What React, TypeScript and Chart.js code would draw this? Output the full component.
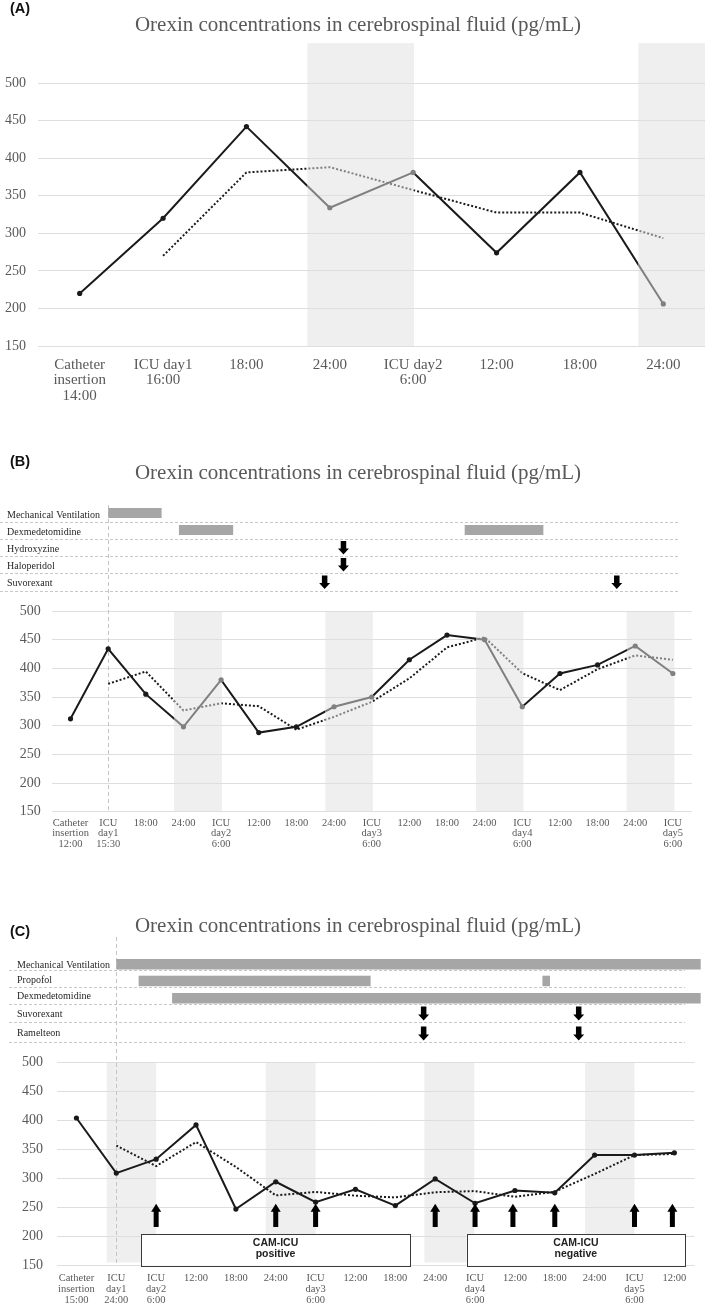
import React, { useEffect, useRef } from "react";
import { Chart, registerables } from "chart.js";
Chart.register(...registerables);

const SERIF = '"Liberation Serif", "Times New Roman", serif';
const SANS = '"Liberation Sans", Arial, sans-serif';
const TXT = "#595959";
const BLACK = "#1a1a1a";
const GRAY = "#808080";
const BAND = "#efefef";
const TITLE = "Orexin concentrations in cerebrospinal fluid (pg/mL)";

// ---------- Panel A data ----------
const catsA = [["Catheter", "insertion", "14:00"], ["ICU day1", "16:00"], ["18:00"], ["24:00"], ["ICU day2", "6:00"], ["12:00"], ["18:00"], ["24:00"]];
const orexinA = [220, 320, 442, 334, 381, 274, 381, 206];
const trendA = [null, 270, 381, 388, 357.5, 327.5, 327.5, 293.5];
const nightA = [[2.73, 4.01], [6.7, 7.5]];

// ---------- Panel B data ----------
const catsB = [["Catheter", "insertion", "12:00"], ["ICU", "day1", "15:30"], ["18:00"], ["24:00"], ["ICU", "day2", "6:00"], ["12:00"], ["18:00"], ["24:00"], ["ICU", "day3", "6:00"], ["12:00"], ["18:00"], ["24:00"], ["ICU", "day4", "6:00"], ["12:00"], ["18:00"], ["24:00"], ["ICU", "day5", "6:00"]];
const orexinB = [312, 434, 355, 298, 380, 288, 298, 333, 350, 415, 458, 450, 333, 391, 406, 439, 391];
const trendB = [null, 373, 394.5, 326.5, 339, 334, 293, 315.5, 341.5, 382.5, 436.5, 454, 391.5, 362, 398.5, 422.5, 415];
const nightB = [[2.75, 4.02], [6.77, 8.03], [10.77, 12.03], [14.77, 16.04]];
const rowsB = ["Mechanical Ventilation", "Dexmedetomidine", "Hydroxyzine", "Haloperidol", "Suvorexant"];
const barsB = [[0, 1.0, 2.42], [1, 2.88, 4.32], [1, 10.47, 12.56]];
const dosesB = [[2, 7.25], [3, 7.25], [4, 6.75], [4, 14.51]];

// ---------- Panel C data ----------
const catsC = [["Catheter", "insertion", "15:00"], ["ICU", "day1", "24:00"], ["ICU", "day2", "6:00"], ["12:00"], ["18:00"], ["24:00"], ["ICU", "day3", "6:00"], ["12:00"], ["18:00"], ["24:00"], ["ICU", "day4", "6:00"], ["12:00"], ["18:00"], ["24:00"], ["ICU", "day5", "6:00"], ["12:00"]];
const orexinC = [404, 309, 333, 392, 247, 294, 259, 281, 253, 299, 257, 279, 275, 340, 340, 344];
const trendC = [null, 356.5, 321, 362.5, 319.5, 270.5, 276.5, 270, 267, 276, 278, 268, 277, 307.5, 340, 342];
const nightC = [[0.76, 2.0], [4.75, 6.0], [8.73, 9.98], [12.76, 14.0]];
const rowsC = ["Mechanical Ventilation", "Propofol", "Dexmedetomidine", "Suvorexant", "Ramelteon"];
const barsC = [[0, 1.0, 15.66], [1, 1.56, 7.38], [1, 11.69, 11.88], [2, 2.4, 15.66]];
const dosesC = [[3, 8.71], [4, 8.71], [3, 12.6], [4, 12.6]];
const camArrowsC = [2, 5, 6, 9, 10, 10.95, 12, 14, 14.95];
const camBoxesC = [["CAM-ICU", "positive", 1.62, 8.37], ["CAM-ICU", "negative", 9.79, 15.27]];
const camBoxRange = [204, 149];
const camArrowRange = [256, 216];

type Cfg = any;

const cfgA: Cfg = {
  top: 0, height: 420, letter: "(A)", letterY: 9, titleY: 25,
  cats: catsA, values: orexinA, trend: trendA, bands: nightA, grayInBands: true,
  bandTop: 553, bandBottom: 150,
  padding: { top: 83, bottom: 74, left: 0, right: 1 }, yWidth: 38, yPad: 12, yFont: 14,
  xFont: 15, xStart: 365, xLh: 15.5,
};
const cfgB: Cfg = {
  top: 420, height: 440, letter: "(B)", letterY: 42, titleY: 53,
  cats: catsB, values: orexinB, trend: trendB, bands: nightB, grayInBands: true,
  bandTop: 500, bandBottom: 150,
  padding: { top: 191, bottom: 48.3, left: 0, right: 17.3 }, yWidth: 51.7, yPad: 11, yFont: 14,
  xFont: 10.5, xStart: 403, xLh: 10.7,
  rows: rowsB, rowLines: [102, 119, 136, 153, 170.5], rowLabelY: [95, 112, 129, 146, 163.5], rowLabelX: 7,
  dashX: [0, 678], barTop: -14, barH: 10, arrowTop: -15, arrowBottom: -1.5, bars: barsB, doses: dosesB, vlineTop: 85,
};
const cfgC: Cfg = {
  top: 860, height: 446, letter: "(C)", letterY: 71.7, titleY: 66.7,
  cats: catsC, values: orexinC, trend: trendC, bands: nightC, grayInBands: false,
  bandTop: 500, bandBottom: 155,
  padding: { top: 202.3, bottom: 40.7, left: 0, right: 14.7 }, yWidth: 56.5, yPad: 13.5, yFont: 14,
  xFont: 10.5, xStart: 418, xLh: 11,
  rows: rowsC, rowLines: [110, 126.7, 144, 162, 182], rowLabelY: [105.7, 120.7, 136.7, 154, 173], rowLabelX: 17,
  dashX: [9, 685], barTop: -11, barH: 10.5, arrowTop: -15.5, arrowBottom: -1.5, bars: barsC, doses: dosesC, vlineTop: 77,
  camArrows: camArrowsC, camBoxes: camBoxesC,
};

function drawArrow(ctx: CanvasRenderingContext2D, cx: number, tip: number, tail: number, hw: number, sw: number, hh: number) {
  const dir = tip > tail ? 1 : -1;
  const base = tip - dir * hh;
  ctx.beginPath();
  ctx.moveTo(cx - sw / 2, tail);
  ctx.lineTo(cx + sw / 2, tail);
  ctx.lineTo(cx + sw / 2, base);
  ctx.lineTo(cx + hw / 2, base);
  ctx.lineTo(cx, tip);
  ctx.lineTo(cx - hw / 2, base);
  ctx.lineTo(cx - sw / 2, base);
  ctx.closePath();
  ctx.fill();
}

function inBand(bands: number[][], i: number) {
  return bands.some(([s, e]) => i >= s && i <= e);
}

function lineColor(chart: any, cfg: Cfg) {
  const { ctx, chartArea, scales } = chart;
  if (!cfg.grayInBands || !chartArea || !scales || !scales.x) return BLACK;
  const x = scales.x;
  const L = chartArea.left, R = chartArea.right;
  const g = ctx.createLinearGradient(L, 0, R, 0);
  const f = (v: number) => Math.min(1, Math.max(0, (x.getPixelForValue(v) - L) / (R - L)));
  g.addColorStop(0, BLACK);
  for (const [s, e] of cfg.bands) {
    const a = f(s), b = f(e);
    g.addColorStop(a, BLACK);
    g.addColorStop(a, GRAY);
    g.addColorStop(b, GRAY);
    g.addColorStop(b, BLACK);
  }
  g.addColorStop(1, cfg.bands.some((b: number[]) => f(b[1]) >= 1) ? GRAY : BLACK);
  return g;
}

function makePlugin(cfg: Cfg) {
  return {
    id: "panelDecor",
    beforeDraw(chart: any) {
      const { ctx, chartArea, scales: { x, y } } = chart;
      ctx.save();
      ctx.fillStyle = BAND;
      for (const [s, e] of cfg.bands) {
        const x0 = Math.max(chartArea.left, x.getPixelForValue(s));
        const x1 = Math.min(chartArea.right, x.getPixelForValue(e));
        const y0 = y.getPixelForValue(cfg.bandTop);
        const y1 = y.getPixelForValue(cfg.bandBottom);
        ctx.fillRect(x0, y0, x1 - x0, y1 - y0);
      }
      ctx.restore();
    },
    beforeDatasetsDraw(chart: any) {
      const { ctx, chartArea, scales: { x } } = chart;
      if (cfg.vlineTop == null) return;
      ctx.save();
      ctx.strokeStyle = "#c4c4c4";
      ctx.lineWidth = 1;
      ctx.setLineDash([4, 3]);
      const px = Math.round(x.getPixelForValue(1)) + 0.5;
      ctx.beginPath();
      ctx.moveTo(px, cfg.vlineTop);
      ctx.lineTo(px, chartArea.bottom);
      ctx.stroke();
      ctx.restore();
    },
    afterDatasetsDraw(chart: any) {
      const { ctx, scales: { x, y } } = chart;
      ctx.save();
      if (cfg.camBoxes) {
        for (const [l1, l2, s, e] of cfg.camBoxes) {
          const x0 = x.getPixelForValue(s), x1 = x.getPixelForValue(e);
          const y0 = y.getPixelForValue(camBoxRange[0]), y1 = y.getPixelForValue(camBoxRange[1]);
          ctx.fillStyle = "#ffffff";
          ctx.fillRect(x0, y0, x1 - x0, y1 - y0);
          ctx.strokeStyle = "#3a3a3a";
          ctx.lineWidth = 1;
          ctx.strokeRect(Math.round(x0) + 0.5, Math.round(y0) + 0.5, Math.round(x1 - x0), Math.round(y1 - y0));
          ctx.fillStyle = "#222222";
          ctx.font = `bold 10.5px ${SANS}`;
          ctx.textAlign = "center";
          ctx.textBaseline = "middle";
          const cx = (x0 + x1) / 2;
          ctx.fillText(l1, cx, y0 + 9);
          ctx.fillText(l2, cx, y0 + 19.7);
        }
      }
      if (cfg.camArrows) {
        ctx.fillStyle = "#000000";
        for (const v of cfg.camArrows) {
          const cx = x.getPixelForValue(v);
          drawArrow(ctx, cx, y.getPixelForValue(camArrowRange[0]), y.getPixelForValue(camArrowRange[1]), 10, 5, 8);
        }
      }
      ctx.restore();
    },
    afterDraw(chart: any) {
      const { ctx, scales: { x } } = chart;
      ctx.save();
      // panel letter
      ctx.fillStyle = "#111111";
      ctx.font = `bold 14.5px ${SANS}`;
      ctx.textAlign = "left";
      ctx.textBaseline = "middle";
      ctx.fillText(cfg.letter, 10, cfg.letterY);
      // title
      ctx.fillStyle = TXT;
      ctx.font = `21px ${SERIF}`;
      ctx.textAlign = "center";
      ctx.fillText(TITLE, 358, cfg.titleY);
      // x labels
      ctx.font = `${cfg.xFont}px ${SERIF}`;
      cfg.cats.forEach((lines: string[], i: number) => {
        const px = x.getPixelForValue(i);
        lines.forEach((t, k) => ctx.fillText(t, px, cfg.xStart + k * cfg.xLh));
      });
      // annotation rows
      if (cfg.rows) {
        ctx.strokeStyle = "#c8c8c8";
        ctx.lineWidth = 1;
        ctx.setLineDash([3, 2]);
        cfg.rowLines.forEach((ly: number) => {
          ctx.beginPath();
          ctx.moveTo(cfg.dashX[0], Math.round(ly) + 0.5);
          ctx.lineTo(cfg.dashX[1], Math.round(ly) + 0.5);
          ctx.stroke();
        });
        ctx.setLineDash([]);
        ctx.fillStyle = "#262626";
        ctx.font = `10px ${SERIF}`;
        ctx.textAlign = "left";
        cfg.rows.forEach((r: string, k: number) => ctx.fillText(r, cfg.rowLabelX, cfg.rowLabelY[k]));
        ctx.fillStyle = "#a6a6a6";
        for (const [row, s, e] of cfg.bars) {
          const x0 = x.getPixelForValue(s), x1 = x.getPixelForValue(e);
          ctx.fillRect(x0, cfg.rowLines[row] + cfg.barTop, x1 - x0, cfg.barH);
        }
        ctx.fillStyle = "#000000";
        for (const [row, v] of cfg.doses) {
          const cx = x.getPixelForValue(v);
          drawArrow(ctx, cx, cfg.rowLines[row] + cfg.arrowBottom, cfg.rowLines[row] + cfg.arrowTop, 11, 5.5, 6);
        }
      }
      ctx.restore();
    },
  };
}

function Panel({ cfg }: { cfg: Cfg }) {
  const ref = useRef<HTMLCanvasElement>(null);
  useEffect(() => {
    if (!ref.current) return;
    const pointCol = (c: any) => (cfg.grayInBands && inBand(cfg.bands, c.dataIndex) ? GRAY : BLACK);
    const chart = new Chart(ref.current, {
      type: "line",
      data: {
        labels: cfg.cats.map((l: string[]) => l.join(" ")),
        datasets: [
          {
            label: "Orexin",
            data: cfg.values,
            borderColor: (c: any) => lineColor(c.chart, cfg),
            borderWidth: 2,
            pointRadius: 2.6,
            pointBorderWidth: 0,
            pointBackgroundColor: pointCol,
            pointBorderColor: pointCol,
            tension: 0,
          },
          {
            label: "Trend",
            data: cfg.trend,
            borderColor: (c: any) => lineColor(c.chart, cfg),
            borderWidth: 2,
            borderDash: [2, 2],
            pointRadius: 0,
            tension: 0,
          },
        ],
      },
      options: {
        responsive: false,
        animation: false,
        devicePixelRatio: 1,
        layout: { padding: cfg.padding },
        plugins: { legend: { display: false }, tooltip: { enabled: false }, title: { display: false } },
        scales: {
          x: { type: "category", display: false, offset: true },
          y: {
            min: 150,
            max: 500,
            afterFit: (s: any) => { s.width = cfg.yWidth; },
            ticks: { stepSize: 50, color: TXT, padding: cfg.yPad, font: { family: SERIF, size: cfg.yFont } },
            grid: { color: "#dedede", drawTicks: false, lineWidth: 1 },
            border: { display: false },
          },
        },
      },
      plugins: [makePlugin(cfg)],
    } as any);
    return () => chart.destroy();
  }, [cfg]);
  return (
    <canvas
      ref={ref}
      width={709}
      height={cfg.height}
      style={{ position: "absolute", left: 0, top: cfg.top, width: 709, height: cfg.height, display: "block" }}
    />
  );
}

export default function App() {
  return (
    <div style={{ position: "absolute", left: 0, top: 0, width: 709, height: 1306, background: "#ffffff", overflow: "hidden" }}>
      <Panel cfg={cfgA} />
      <Panel cfg={cfgB} />
      <Panel cfg={cfgC} />
    </div>
  );
}
